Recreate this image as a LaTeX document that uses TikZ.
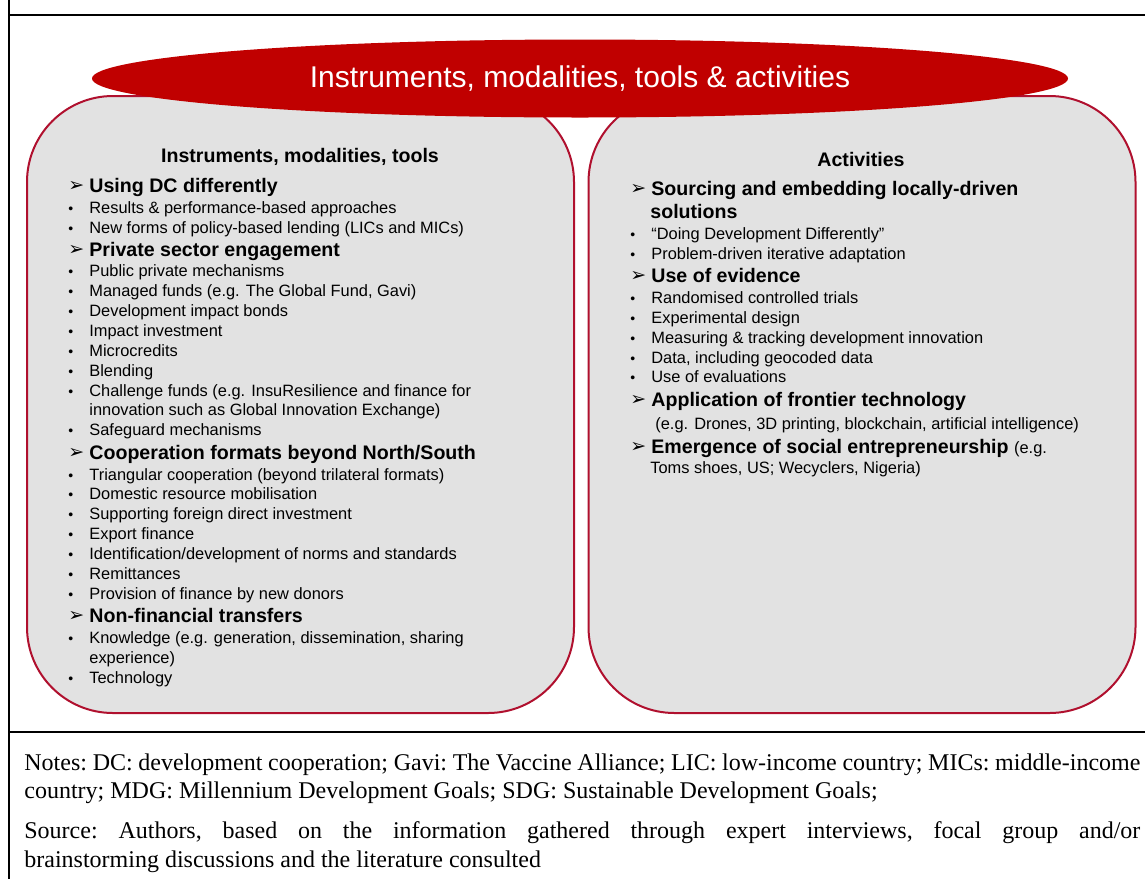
\documentclass[tikz,border=0pt]{standalone}
\usepackage{fontspec}
\setmainfont{Liberation Serif}
\setsansfont{Liberation Sans}
\newfontfamily\dingfont{DejaVu Sans}
\usetikzlibrary{positioning, shapes.geometric}

\definecolor{bannerred}{HTML}{C00000}
\definecolor{panelline}{HTML}{B0102E}
\definecolor{panelfill}{HTML}{E2E2E2}

\newcommand{\tickmark}{\makebox[10.5pt][l]{\raisebox{0.3pt}{\dingfont\fontsize{9.5}{9.5}\selectfont ➢}}}
\newcommand{\bulletdot}{\makebox[10.5pt][l]{\fontsize{7}{7}\selectfont •}}

\tikzset{
  panel/.style={draw=panelline, line width=1pt, fill=panelfill, rounded corners=43pt, minimum width=273.5pt, minimum height=308.5pt},
  banner/.style={ellipse, fill=bannerred, text=white, inner sep=0pt, minimum width=488pt, minimum height=39pt, font=\sffamily\fontsize{15}{18}\selectfont},
  colhead/.style={font=\sffamily\bfseries\fontsize{9.8}{11}\selectfont, inner sep=0pt},
  topic/.style={font=\sffamily\bfseries\fontsize{9.8}{12}\selectfont, anchor=base west, inner sep=0pt},
  entry/.style={font=\sffamily\fontsize{8.2}{10}\selectfont, anchor=base west, inner sep=0pt},
  noteline/.style={font=\frenchspacing\fontsize{12}{14}\selectfont, anchor=base west, inner sep=0pt}
}

\begin{document}
\begin{tikzpicture}[x=0.5pt, y=-0.5pt]
\useasboundingbox (0,0) rectangle (1145,879);

% frame
\draw[line width=1pt] (8.5,0) -- (8.5,879);
\draw[line width=1pt] (8,15) -- (1145,15);
\draw[line width=1pt] (8,732) -- (1145,732);

% panels and banner
\node[panel] (tools) at (300.5,404.5) {};
\node[panel] (acts) at (862,404.5) {};
\node[banner] (banner) at (580,78.5) {Instruments, modalities, tools \& activities};

\node[colhead] (toolshead) at (300,157) {Instruments, modalities, tools};
\node[colhead] (actshead) at (861,159) {Activities};

% left column
\node[topic] (t1) at (68,192) {\tickmark Using DC differently};
\node[topic] (t2) at (68,256) {\tickmark Private sector engagement};
\node[topic] (t3) at (68,459) {\tickmark Cooperation formats beyond North/South};
\node[topic] (t4) at (68,622) {\tickmark Non-financial transfers};

\foreach \y/\t [count=\i] in {
  213/{Results \& performance-based approaches},
  233/{New forms of policy-based lending (LICs and MICs)},
  276/{Public private mechanisms},
  296/{Managed funds (e.g. The Global Fund, Gavi)},
  316/{Development impact bonds},
  336/{Impact investment},
  356/{Microcredits},
  376/{Blending},
  396/{Challenge funds (e.g. InsuResilience and finance for},
  435/{Safeguard mechanisms},
  480/{Triangular cooperation (beyond trilateral formats)},
  499/{Domestic resource mobilisation},
  519/{Supporting foreign direct investment},
  539/{Export finance},
  559/{Identification/development of norms and standards},
  579/{Remittances},
  599/{Provision of finance by new donors},
  643/{Knowledge (e.g. generation, dissemination, sharing},
  683/{Technology}}
  \node[entry] (l\i) at (68,\y) {\bulletdot\t};
\node[entry] (l9b) at (89,415) {innovation such as Global Innovation Exchange)};
\node[entry] (l18b) at (89,663) {experience)};

% right column
\node[topic] (s1) at (630,195) {\tickmark Sourcing and embedding locally-driven};
\node[topic] (s1b) at (650,218) {solutions};
\node[topic] (s2) at (630,282) {\tickmark Use of evidence};
\node[topic] (s3) at (630,406) {\tickmark Application of frontier technology};
\node[topic] (s4) at (630,453) {\tickmark Emergence of social entrepreneurship {\mdseries\fontsize{8.2}{10}\selectfont (e.g.}};

\foreach \y/\t [count=\i] in {
  239/{``Doing Development Differently''},
  259/{Problem-driven iterative adaptation},
  303/{Randomised controlled trials},
  323/{Experimental design},
  343/{Measuring \& tracking development innovation},
  363/{Data, including geocoded data},
  382/{Use of evaluations}}
  \node[entry] (r\i) at (630,\y) {\bulletdot\t};
\node[entry] (r8) at (655,429) {(e.g. Drones, 3D printing, blockchain, artificial intelligence)};
\node[entry] (r9) at (650,473) {Toms shoes, US; Wecyclers, Nigeria)};

% notes
\node[noteline] (notesa) at (24,770) {\makebox[558pt][s]{Notes: DC: development cooperation; Gavi: The Vaccine Alliance; LIC: low-income country; MICs: middle-income}};
\node[noteline] (notesb) at (24,798) {country; MDG: Millennium Development Goals; SDG: Sustainable Development Goals;};
\node[noteline] (srca) at (24,838) {\makebox[558pt][s]{Source: Authors, based on the information gathered through expert interviews, focal group and/or}};
\node[noteline] (srcb) at (24,867) {brainstorming discussions and the literature consulted};

\end{tikzpicture}
\end{document}
